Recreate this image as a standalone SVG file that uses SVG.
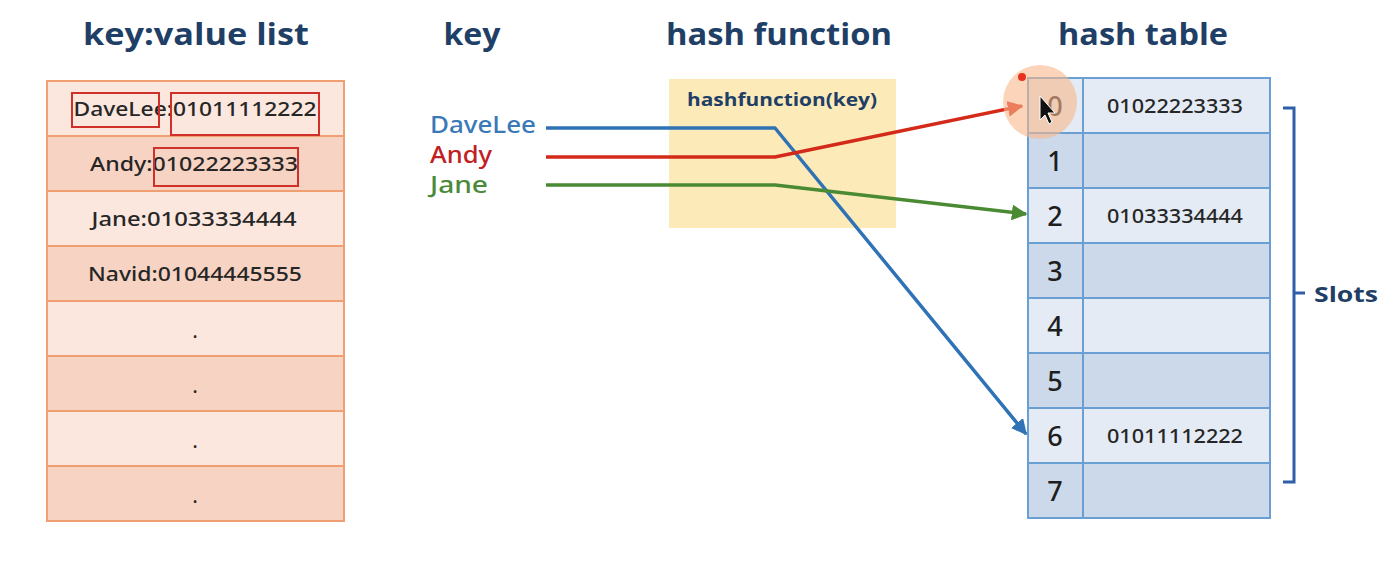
<svg xmlns="http://www.w3.org/2000/svg" width="1398" height="561" viewBox="0 0 1398 561">
<defs>
<style>
.title{font-family:"Open Sans","Noto Sans",sans-serif;font-weight:700;font-size:31px;fill:#1f3f66;}
.cell{font-family:"Noto Sans","DejaVu Sans",sans-serif;font-weight:500;font-size:19px;fill:#262626;text-anchor:middle;}
.idx{font-family:"Noto Sans","DejaVu Sans",sans-serif;font-weight:500;font-size:27px;fill:#1e1e1e;text-anchor:middle;}
.key{font-family:"Noto Sans","DejaVu Sans",sans-serif;font-weight:500;font-size:23px;}
.lrow1{fill:#fce7df;stroke:#ef9f72;stroke-width:2;}
.lrow2{fill:#f7d3c3;stroke:#ef9f72;stroke-width:2;}
.hrow1{fill:#e4ebf5;stroke:#6a9fd4;stroke-width:2;}
.hrow2{fill:#ccd9ea;stroke:#6a9fd4;stroke-width:2;}
.redbox{fill:none;stroke:#d0302a;stroke-width:2;}
.conn{fill:none;stroke-width:3.5;stroke-linejoin:round;}
</style>
<marker id="aBlue" viewBox="0 0 10 10" refX="9" refY="5" markerWidth="4.5" markerHeight="4.5" orient="auto" markerUnits="strokeWidth"><path d="M0,0 L10,5 L0,10 z" fill="#2f72b5"/></marker>
<marker id="aRed" viewBox="0 0 10 10" refX="9" refY="5" markerWidth="4.5" markerHeight="4.5" orient="auto" markerUnits="strokeWidth"><path d="M0,0 L10,5 L0,10 z" fill="#d42a1a"/></marker>
<marker id="aGreen" viewBox="0 0 10 10" refX="9" refY="5" markerWidth="4.5" markerHeight="4.5" orient="auto" markerUnits="strokeWidth"><path d="M0,0 L10,5 L0,10 z" fill="#4a8a32"/></marker>
</defs>
<rect width="1398" height="561" fill="#ffffff"/>

<g id="titles">
<text class="title" x="196" y="45" text-anchor="middle" textLength="226" lengthAdjust="spacingAndGlyphs">key:value  list</text>
<text class="title" x="472" y="45" text-anchor="middle" textLength="57" lengthAdjust="spacingAndGlyphs">key</text>
<text class="title" x="779" y="45" text-anchor="middle" textLength="226" lengthAdjust="spacingAndGlyphs">hash function</text>
<text class="title" x="1143" y="45" text-anchor="middle" textLength="170" lengthAdjust="spacingAndGlyphs">hash table</text>
</g>

<g id="kv-list">
<rect class="lrow1" x="47" y="81" width="297" height="55"/>
<rect class="lrow2" x="47" y="136" width="297" height="55"/>
<rect class="lrow1" x="47" y="191" width="297" height="55"/>
<rect class="lrow2" x="47" y="246" width="297" height="55"/>
<rect class="lrow1" x="47" y="301" width="297" height="55"/>
<rect class="lrow2" x="47" y="356" width="297" height="55"/>
<rect class="lrow1" x="47" y="411" width="297" height="55"/>
<rect class="lrow2" x="47" y="466" width="297" height="55"/>
<text class="cell" x="195" y="116" textLength="243" lengthAdjust="spacingAndGlyphs">DaveLee:01011112222</text>
<text class="cell" x="194" y="171" textLength="208" lengthAdjust="spacingAndGlyphs">Andy:01022223333</text>
<text class="cell" x="194" y="226" textLength="205" lengthAdjust="spacingAndGlyphs">Jane:01033334444</text>
<text class="cell" x="195" y="281" textLength="214" lengthAdjust="spacingAndGlyphs">Navid:01044445555</text>
<text class="cell" x="195" y="338">.</text>
<text class="cell" x="195" y="393">.</text>
<text class="cell" x="195" y="448">.</text>
<text class="cell" x="195" y="503">.</text>
<rect class="redbox" x="72" y="93" width="87" height="34"/>
<rect class="redbox" x="171" y="93" width="148" height="42"/>
<rect class="redbox" x="154" y="148" width="144" height="38"/>
</g>

<g id="hash-function">
<rect x="669" y="79" width="227" height="149" fill="#fcebb8"/>
<text x="782" y="106" text-anchor="middle" font-family="Open Sans, Noto Sans, sans-serif" font-weight="700" font-size="17" fill="#1f3f66" textLength="190" lengthAdjust="spacingAndGlyphs">hashfunction(key)</text>
</g>

<g id="keys">
<text class="key" x="430" y="133" fill="#3a78b8" textLength="106" lengthAdjust="spacingAndGlyphs">DaveLee</text>
<text class="key" x="430" y="163" fill="#c0201f" textLength="62" lengthAdjust="spacingAndGlyphs">Andy</text>
<text class="key" x="430" y="193" fill="#4a8a3a" textLength="58" lengthAdjust="spacingAndGlyphs">Jane</text>
</g>

<g id="hash-table">
<rect class="hrow1" x="1028" y="78" width="55" height="55"/><rect class="hrow1" x="1083" y="78" width="187" height="55"/>
<rect class="hrow2" x="1028" y="133" width="55" height="55"/><rect class="hrow2" x="1083" y="133" width="187" height="55"/>
<rect class="hrow1" x="1028" y="188" width="55" height="55"/><rect class="hrow1" x="1083" y="188" width="187" height="55"/>
<rect class="hrow2" x="1028" y="243" width="55" height="55"/><rect class="hrow2" x="1083" y="243" width="187" height="55"/>
<rect class="hrow1" x="1028" y="298" width="55" height="55"/><rect class="hrow1" x="1083" y="298" width="187" height="55"/>
<rect class="hrow2" x="1028" y="353" width="55" height="55"/><rect class="hrow2" x="1083" y="353" width="187" height="55"/>
<rect class="hrow1" x="1028" y="408" width="55" height="55"/><rect class="hrow1" x="1083" y="408" width="187" height="55"/>
<rect class="hrow2" x="1028" y="463" width="55" height="55"/><rect class="hrow2" x="1083" y="463" width="187" height="55"/>
<text class="idx" x="1055" y="116">0</text>
<text class="idx" x="1055" y="171">1</text>
<text class="idx" x="1055" y="226">2</text>
<text class="idx" x="1055" y="281">3</text>
<text class="idx" x="1055" y="336">4</text>
<text class="idx" x="1055" y="391">5</text>
<text class="idx" x="1055" y="446">6</text>
<text class="idx" x="1055" y="501">7</text>
<text class="cell" x="1175" y="113" textLength="136" lengthAdjust="spacingAndGlyphs">01022223333</text>
<text class="cell" x="1175" y="223" textLength="136" lengthAdjust="spacingAndGlyphs">01033334444</text>
<text class="cell" x="1175" y="443" textLength="136" lengthAdjust="spacingAndGlyphs">01011112222</text>
</g>

<g id="slots">
<path d="M1283,108 H1294 V482 H1283 M1294,293 H1305" fill="none" stroke="#2e5fa8" stroke-width="3"/>
<text x="1314" y="302" font-family="Open Sans, Noto Sans, sans-serif" font-weight="700" font-size="22" fill="#1f3f66" textLength="64" lengthAdjust="spacingAndGlyphs">Slots</text>
</g>

<g id="connectors">
<path class="conn" d="M546,128 H775 L1026,434" stroke="#2f72b5" marker-end="url(#aBlue)"/>
<path class="conn" d="M546,157 H775 L1022,106" stroke="#d42a1a" marker-end="url(#aRed)"/>
<path class="conn" d="M546,185 H775 L1026,214" stroke="#4a8a32" marker-end="url(#aGreen)"/>
</g>

<g id="pointer">
<circle cx="1040" cy="102" r="37" fill="#f9b88a" opacity="0.6"/>
<circle cx="1022" cy="77" r="4" fill="#e8321e"/>
<path d="M1040,96 L1040,120 L1045,115 L1049,124 L1052,122 L1048,113 L1055,113 Z" fill="#111" stroke="#fff" stroke-width="1"/>
</g>
</svg>
